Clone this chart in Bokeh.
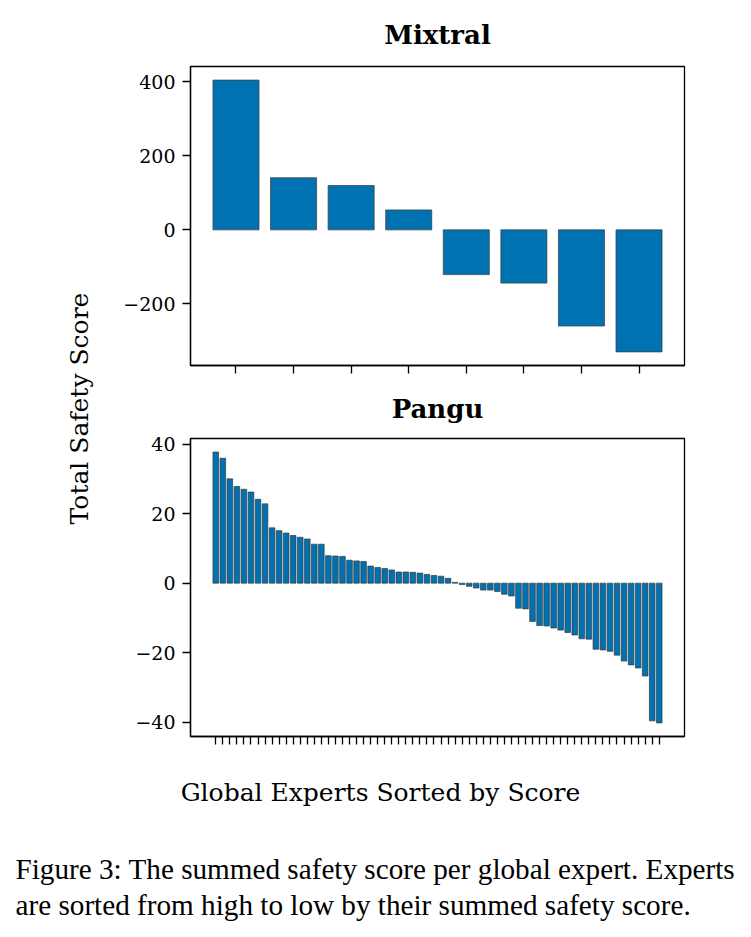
import math
from bokeh.plotting import figure
from bokeh.models import Range1d, FixedTicker, Label, ColumnDataSource
from bokeh.layouts import column, row
from bokeh.embed import file_html
from bokeh.resources import INLINE

# ---- data ----
mixtral_scores = [405, 141, 120, 54, -121, -144, -260, -330]
mixtral_yticks = [-200, 0, 200, 400]

pangu_scores = [37.7, 35.9, 30.0, 27.8, 27.0, 26.2, 24.1, 22.8,
                15.9, 15.1, 14.4, 13.7, 13.2, 12.7, 11.2, 11.2,
                7.9, 7.8, 7.7, 6.6, 6.4, 6.2,
                4.9, 4.5, 4.2, 3.8, 3.2, 3.2, 3.1, 2.9,
                2.5, 2.2, 2.0, 1.4, 0.2,
                -0.4, -0.9, -1.4, -2.0, -2.0, -2.4, -3.2, -3.7,
                -7.2, -7.4,
                -11.0, -12.2, -12.3, -12.9, -13.5, -14.2, -14.9, -16.0, -16.1,
                -19.0, -19.2, -19.6, -20.7, -22.4, -23.5, -24.4, -26.7,
                -39.6, -40.2]
pangu_yticks = [-40, -20, 0, 20, 40]

titles = ["Mixtral", "Pangu"]
y_label = "Total Safety Score"
x_label = "Global Experts Sorted by Score"
caption_lines = ["Figure 3: The summed safety score per global expert. Experts",
                 "are sorted from high to low by their summed safety score."]

SERIF = "DejaVu Serif"
BAR_COLOR = "#0072B2"


def bar_panel(title, vals, yticks, width, height, border_top, border_bottom, standoff):
    n = len(vals)
    xs = list(range(n))
    lo, hi = min(min(vals), 0), max(max(vals), 0)
    ypad = 0.05 * (hi - lo)
    xlo, xhi = -0.4, n - 1 + 0.4
    xpad = 0.05 * (xhi - xlo)
    p = figure(width=width, height=height, output_backend="svg", toolbar_location=None,
               x_range=Range1d(xlo - xpad, xhi + xpad),
               y_range=Range1d(lo - ypad, hi + ypad),
               min_border_left=90, min_border_right=67,
               min_border_top=border_top, min_border_bottom=border_bottom)
    src = ColumnDataSource(dict(x=xs, top=vals))
    p.vbar(x="x", top="top", bottom=0, width=0.8, source=src,
           fill_color=BAR_COLOR, line_color="#3a3a3a", line_width=0.7)
    p.grid.visible = False
    p.outline_line_color = "black"
    p.outline_line_width = 1.3
    p.background_fill_color = "white"
    p.border_fill_color = "white"

    p.title.text = title
    p.title.align = "center"
    p.title.text_font = SERIF
    p.title.text_font_style = "bold"
    p.title.text_font_size = "26px"
    p.title.text_color = "black"
    p.title.standoff = standoff

    for ax in (p.xaxis[0], p.yaxis[0]):
        ax.axis_line_color = "black"
        ax.axis_line_width = 1.3
        ax.major_tick_line_color = "black"
        ax.major_tick_line_width = 1.3
        ax.major_tick_in = 0
        ax.major_tick_out = 8
        ax.minor_tick_line_color = None

    p.xaxis.ticker = FixedTicker(ticks=xs)
    p.xaxis.major_label_overrides = {i: "" for i in xs}
    p.xaxis.major_label_text_font_size = "10px"
    p.xaxis.major_label_standoff = 0

    p.yaxis.ticker = FixedTicker(ticks=yticks)
    p.yaxis.major_label_overrides = {t: str(t).replace("-", "\u2212") for t in yticks}
    p.yaxis.major_label_text_font = SERIF
    p.yaxis.major_label_text_font_size = "19px"
    p.yaxis.major_label_text_color = "black"
    p.yaxis.major_label_standoff = 7
    return p


fig1 = bar_panel(titles[0], mixtral_scores, mixtral_yticks, 651, 374, 66, 9, 33)
fig2 = bar_panel(titles[1], pangu_scores, pangu_yticks, 651, 386, 64, 24, 30)


def blank(width, height, x0, x1, ytop, ybot):
    p = figure(width=width, height=height, output_backend="svg", toolbar_location=None,
               x_range=Range1d(x0, x1), y_range=Range1d(ybot, ytop),
               x_axis_type=None, y_axis_type=None, min_border=0)
    p.grid.visible = False
    p.outline_line_color = None
    p.background_fill_color = "white"
    p.border_fill_color = "white"
    return p


ylab_fig = blank(100, 760, 0, 100, 0, 760)
ylab_fig.add_layout(Label(x=79, y=408, text=y_label, angle=math.pi / 2,
                          text_align="center", text_baseline="middle",
                          text_font=SERIF, text_font_size="25px", text_color="black"))

bottom_fig = blank(751, 177, 0, 751, 760, 937)
bottom_fig.add_layout(Label(x=380, y=792, text=x_label, text_align="center",
                            text_baseline="alphabetic", text_font=SERIF,
                            text_font_size="25px", text_color="black"))
for i, line in enumerate(caption_lines):
    bottom_fig.add_layout(Label(x=15, y=868 + 36 * i, text=line, text_align="left",
                                text_baseline="alphabetic", text_font="Liberation Serif",
                                text_font_size="29.2px", text_color="black"))

layout = column(row(ylab_fig, column(fig1, fig2, spacing=0), spacing=0), bottom_fig, spacing=0)

open("out.html", "w").write(file_html(layout, INLINE))
